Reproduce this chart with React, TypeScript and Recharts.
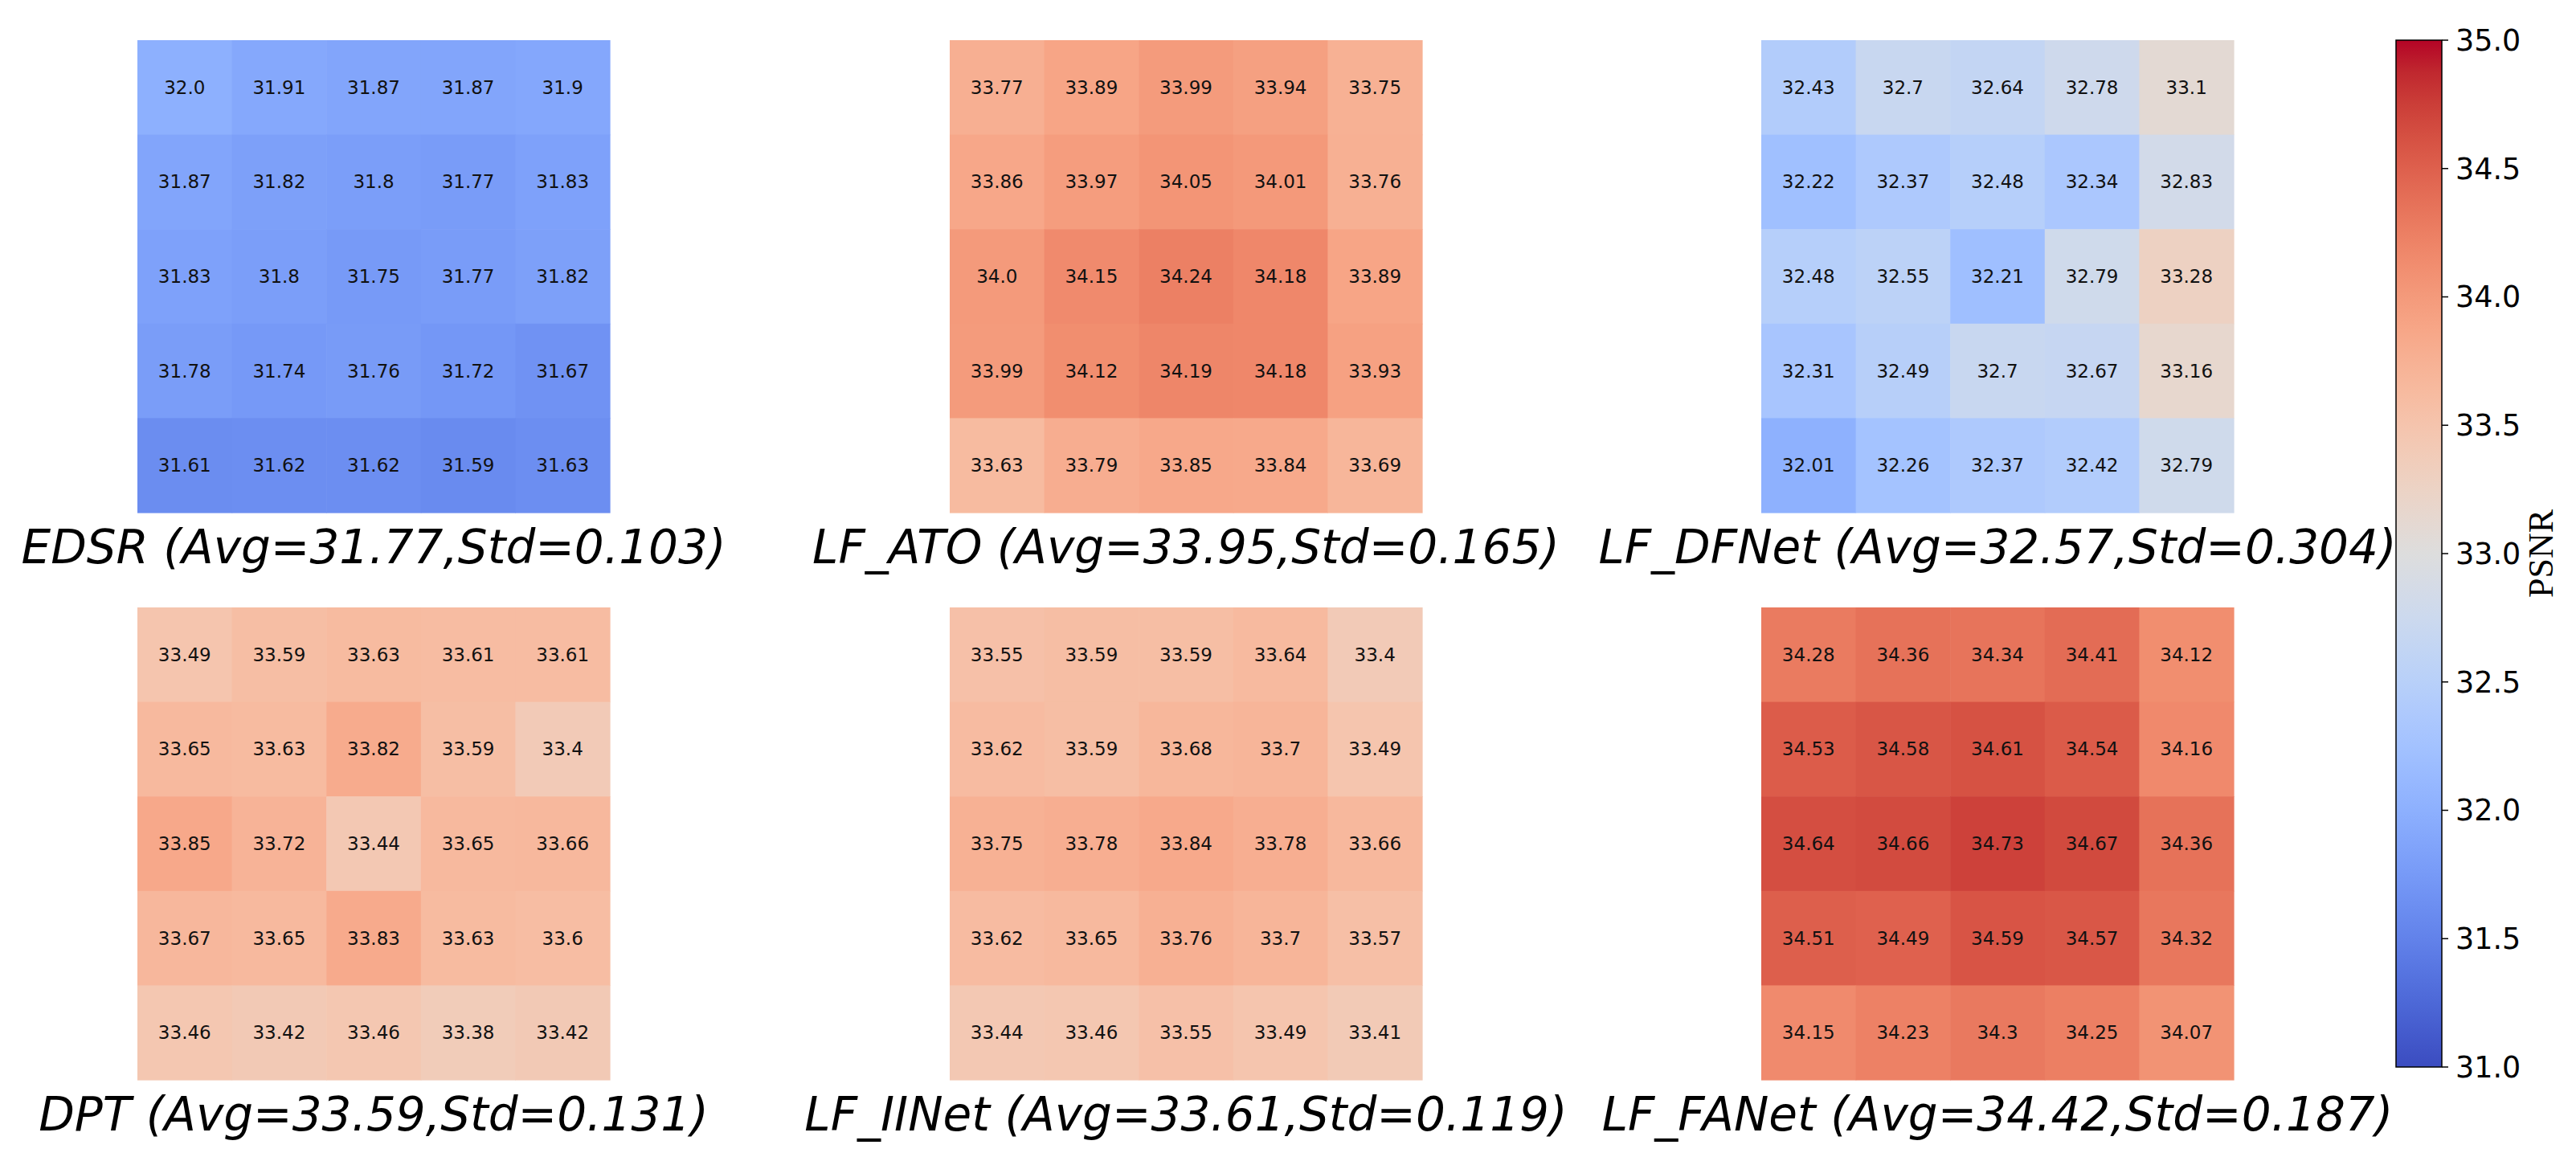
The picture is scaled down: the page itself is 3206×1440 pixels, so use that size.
import { ScatterChart, Scatter, XAxis, YAxis, BarChart, Bar } from 'recharts';

// PSNR grids, 5x5 per method, row by row (top row first)
const edsr = [
  32.0, 31.91, 31.87, 31.87, 31.9,
  31.87, 31.82, 31.8, 31.77, 31.83,
  31.83, 31.8, 31.75, 31.77, 31.82,
  31.78, 31.74, 31.76, 31.72, 31.67,
  31.61, 31.62, 31.62, 31.59, 31.63,
];
const lfAto = [
  33.77, 33.89, 33.99, 33.94, 33.75,
  33.86, 33.97, 34.05, 34.01, 33.76,
  34.0, 34.15, 34.24, 34.18, 33.89,
  33.99, 34.12, 34.19, 34.18, 33.93,
  33.63, 33.79, 33.85, 33.84, 33.69,
];
const lfDfnet = [
  32.43, 32.7, 32.64, 32.78, 33.1,
  32.22, 32.37, 32.48, 32.34, 32.83,
  32.48, 32.55, 32.21, 32.79, 33.28,
  32.31, 32.49, 32.7, 32.67, 33.16,
  32.01, 32.26, 32.37, 32.42, 32.79,
];
const dpt = [
  33.49, 33.59, 33.63, 33.61, 33.61,
  33.65, 33.63, 33.82, 33.59, 33.4,
  33.85, 33.72, 33.44, 33.65, 33.66,
  33.67, 33.65, 33.83, 33.63, 33.6,
  33.46, 33.42, 33.46, 33.38, 33.42,
];
const lfIinet = [
  33.55, 33.59, 33.59, 33.64, 33.4,
  33.62, 33.59, 33.68, 33.7, 33.49,
  33.75, 33.78, 33.84, 33.78, 33.66,
  33.62, 33.65, 33.76, 33.7, 33.57,
  33.44, 33.46, 33.55, 33.49, 33.41,
];
const lfFanet = [
  34.28, 34.36, 34.34, 34.41, 34.12,
  34.53, 34.58, 34.61, 34.54, 34.16,
  34.64, 34.66, 34.73, 34.67, 34.36,
  34.51, 34.49, 34.59, 34.57, 34.32,
  34.15, 34.23, 34.3, 34.25, 34.07,
];

const titles = [
  'EDSR (Avg=31.77,Std=0.103)',
  'LF_ATO (Avg=33.95,Std=0.165)',
  'LF_DFNet (Avg=32.57,Std=0.304)',
  'DPT (Avg=33.59,Std=0.131)',
  'LF_IINet (Avg=33.61,Std=0.119)',
  'LF_FANet (Avg=34.42,Std=0.187)',
];
const grids = [edsr, lfAto, lfDfnet, dpt, lfIinet, lfFanet];

const vmin = 31;
const vmax = 35;
const cbTicks = [31, 31.5, 32, 32.5, 33, 33.5, 34, 34.5, 35];

// coolwarm (Moreland), 33 samples from 0 to 1
const coolwarm = [
  [59, 76, 192], [68, 90, 204], [77, 104, 215], [87, 117, 225], [98, 130, 234],
  [108, 142, 241], [119, 154, 247], [130, 165, 251], [141, 176, 254], [152, 185, 255],
  [163, 194, 255], [174, 201, 253], [184, 208, 249], [194, 213, 244], [204, 217, 238],
  [213, 219, 230], [221, 221, 221], [229, 216, 209], [236, 211, 197], [241, 204, 185],
  [245, 196, 173], [247, 187, 160], [247, 177, 148], [247, 166, 135], [244, 154, 123],
  [241, 141, 111], [236, 127, 99], [229, 112, 88], [222, 96, 77], [213, 80, 66],
  [203, 62, 56], [192, 40, 47], [180, 4, 38],
];

function colorAt(t: number) {
  const s = Math.max(0, Math.min(1, t)) * (coolwarm.length - 1);
  const i = Math.min(Math.floor(s), coolwarm.length - 2);
  const f = s - i;
  const a = coolwarm[i];
  const b = coolwarm[i + 1];
  const c = a.map((v, k) => Math.round(v + (b[k] - v) * f));
  return `rgb(${c[0]},${c[1]},${c[2]})`;
}

const fmt = (v: number) => (Number.isInteger(v) ? v.toFixed(1) : String(v));

const CELL = 588 / 5;
const SIDE = 225;
const PANEL_W = 588 + 2 * SIDE;
const PANEL_H = 668;
// top-left corner of each 588x588 image
const plotPos = [
  [171, 50], [1182, 50], [2192, 50],
  [171, 756], [1182, 756], [2192, 756],
];

function Cell(props: any) {
  const { cx, cy, payload } = props;
  if (cx == null || cy == null) return null;
  return (
    <g>
      <rect x={cx - CELL / 2} y={cy - CELL / 2} width={CELL + 0.6} height={CELL + 0.6}
        fill={colorAt((payload.v - vmin) / (vmax - vmin))} />
      <text x={cx} y={cy} textAnchor="middle" dominantBaseline="central"
        fontFamily="DejaVu Sans" fontSize={23} fill="#111">{fmt(payload.v)}</text>
    </g>
  );
}

function Heatmap({ values, title }: { values: number[]; title: string }) {
  const data = values.map((v, i) => ({ x: (i % 5) + 0.5, y: Math.floor(i / 5) + 0.5, v }));
  return (
    <ScatterChart width={PANEL_W} height={PANEL_H} margin={{ top: 0, right: SIDE, bottom: 80, left: SIDE }}>
      <XAxis type="number" dataKey="x" domain={[0, 5]} hide />
      <YAxis type="number" dataKey="y" domain={[0, 5]} reversed hide />
      <Scatter data={data} shape={<Cell />} isAnimationActive={false} />
      <text x={PANEL_W / 2} y={651} textAnchor="middle" fontFamily="DejaVu Sans"
        fontStyle="italic" fontSize={58} fill="#000">{title}</text>
    </ScatterChart>
  );
}

function Colorbar() {
  const data = [{ name: 'PSNR', range: [vmin, vmax] }];
  return (
    <BarChart width={236} height={1330} data={data} barCategoryGap={0}
      margin={{ top: 20, right: 0, bottom: 32, left: 12 }}>
      <defs>
        <linearGradient id="cwGrad" x1="0" y1="0" x2="0" y2="1">
          {coolwarm.map((c, i) => (
            <stop key={i} offset={`${(i / (coolwarm.length - 1)) * 100}%`}
              stopColor={colorAt(1 - i / (coolwarm.length - 1))} />
          ))}
        </linearGradient>
      </defs>
      <XAxis dataKey="name" hide />
      <YAxis orientation="right" type="number" domain={[vmin, vmax]} ticks={cbTicks} interval={0}
        width={167} tickSize={8} tickMargin={9} axisLine={false}
        tickLine={{ stroke: '#000', strokeWidth: 1.5 }}
        tick={{ fill: '#000', fontSize: 36.5, fontFamily: 'DejaVu Sans' }}
        tickFormatter={(v: number) => v.toFixed(1)} />
      <Bar dataKey="range" fill="url(#cwGrad)" stroke="#000" strokeWidth={1.5} isAnimationActive={false} />
      <text x={192} y={659} transform="rotate(-90 192 659)" textAnchor="middle" dominantBaseline="central"
        fontFamily="Liberation Serif" fontSize={44} fill="#000">PSNR</text>
    </BarChart>
  );
}

export default function App() {
  return (
    <div style={{ position: 'absolute', left: 0, top: 0, width: 3206, height: 1440, background: '#fff', overflow: 'hidden' }}>
      {grids.map((g, i) => (
        <div key={i} style={{ position: 'absolute', left: plotPos[i][0] - SIDE, top: plotPos[i][1] }}>
          <Heatmap values={g} title={titles[i]} />
        </div>
      ))}
      <div style={{ position: 'absolute', left: 2970, top: 30 }}>
        <Colorbar />
      </div>
    </div>
  );
}
